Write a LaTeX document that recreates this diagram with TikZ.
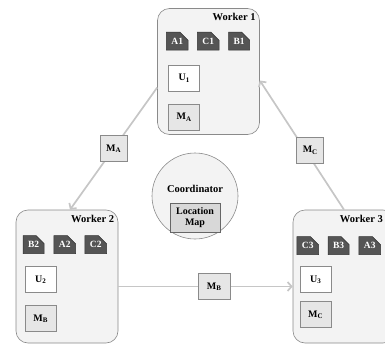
\documentclass[tikz,border=0pt]{standalone}
\usepackage{fontspec}
\setmainfont{Liberation Serif}
\usetikzlibrary{arrows.meta,shapes.misc,calc}

\definecolor{linkgray}{HTML}{C6C6C6}
\definecolor{panel}{HTML}{F3F3F3}
\definecolor{edgegray}{HTML}{8A8A8A}
\definecolor{filegray}{HTML}{555555}
\definecolor{msggray}{HTML}{E6E6E6}
\definecolor{mapgray}{HTML}{D8D8D8}

\tikzset{
  worker/.style={draw=edgegray, fill=panel, rounded corners=12pt, line width=0.6pt,
    minimum width=102pt, minimum height=133pt},
  title/.style={anchor=north east, inner sep=1pt, font=\bfseries\fontsize{10.5}{12}\selectfont},
  file/.style={chamfered rectangle, chamfered rectangle corners=north east,
    chamfered rectangle sep=4pt, draw=black!80, fill=filegray, text=white,
    minimum width=18pt, minimum height=18pt, inner sep=1pt, line width=0.5pt,
    font=\bfseries\fontsize{9.5}{11}\selectfont},
  store/.style={draw=edgegray, fill=white, minimum width=31pt, minimum height=26pt,
    inner sep=1pt, line width=0.6pt, font=\bfseries\fontsize{10}{11}\selectfont},
  msg/.style={draw=edgegray, fill=msggray, minimum width=27pt, minimum height=26pt,
    inner sep=1pt, line width=0.6pt, font=\bfseries\fontsize{10}{11}\selectfont},
  link/.style={draw=linkgray, line width=1.7pt, -{Straight Barb[length=4pt,width=9pt]}},
  coord/.style={circle, draw=edgegray, fill=panel, minimum size=86pt, line width=0.6pt},
  mapbox/.style={draw=black!60, fill=mapgray, minimum width=50pt, minimum height=29pt,
    inner sep=1pt, align=center, line width=0.6pt, font=\bfseries\fontsize{10}{11}\selectfont}
}

\begin{document}
\begin{tikzpicture}[x=1pt,y=-1pt]
\useasboundingbox (0,0) rectangle (385,345);
\clip (0,0) rectangle (385,345);
% workers
\node [worker, minimum height=126pt] (w1) at (208.5,71.5) {};
\node [worker] (w2) at (67,276.5) {};
\node [worker] (w3) at (344,276.5) {};
\node [title] (t1) at ($(w1.north east)+(-3,4)$) {Worker 1};
\node [title] (t2) at ($(w2.north east)+(-3,4)$) {Worker 2};
\node [title] (t3) at ($(w3.north)+(40,4)$) {Worker 3};
% partitions
\node [file] (a1) at ($(w1.north west)+(20,33)$) {A1};
\node [file] (c1) at ($(w1.north west)+(51,33)$) {C1};
\node [file] (b1) at ($(w1.north west)+(82,33)$) {B1};
\node [file] (b2) at ($(w2.north west)+(18,35)$) {B2};
\node [file] (a2) at ($(w2.north west)+(49,35)$) {A2};
\node [file] (c2) at ($(w2.north west)+(80,35)$) {C2};
\node [file] (c3) at ($(w3.north west)+(15,36)$) {C3};
\node [file] (b3) at ($(w3.north west)+(46,36)$) {B3};
\node [file] (a3) at ($(w3.north west)+(77,36)$) {A3};
% local state
\node [store] (u1) at ($(w1.north west)+(27,70)$) {U\textsubscript{1}};
\node [store, fill=msggray] (m1) at ($(w1.north west)+(27,109)$) {M\textsubscript{A}};
\node [store] (u2) at ($(w2.north west)+(25,70)$) {U\textsubscript{2}};
\node [store, fill=msggray] (m2) at ($(w2.north west)+(25,109)$) {M\textsubscript{B}};
\node [store] (u3) at ($(w3.north west)+(23,70)$) {U\textsubscript{3}};
\node [store, fill=msggray] (m3) at ($(w3.north west)+(23,105)$) {M\textsubscript{C}};
% coordinator
\node [coord] (co) at (195,196) {};
\node [font=\bfseries\fontsize{10.5}{12}\selectfont] (cot) at ($(co.center)+(0,-7)$) {Coordinator};
\node [mapbox] (map) at ($(co.center)+(0,22)$) {Location\\Map};
% messages
\draw [link] ($(w1.west)+(0,16)$) -- node [msg] (ma) {M\textsubscript{A}} ($(w2.north)+(3,0)$);
\draw [link] ($(w2.east)+(0,10)$) -- node [msg, pos=0.55, minimum width=32pt] (mb) {M\textsubscript{B}} ($(w3.west)+(0,10)$);
\draw [link] (w3.north) -- node [msg, pos=0.46, xshift=5pt] (mc) {M\textsubscript{C}} ($(w1.east)+(0,9)$);
\end{tikzpicture}
\end{document}
